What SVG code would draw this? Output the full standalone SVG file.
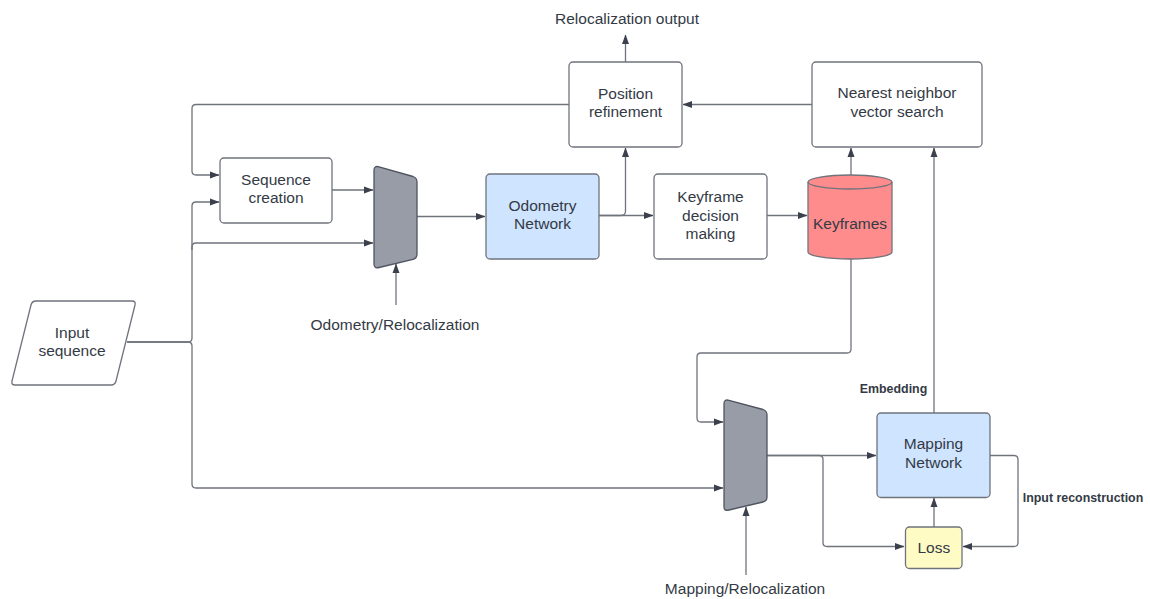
<svg xmlns="http://www.w3.org/2000/svg" width="1150" height="599" viewBox="0 0 1150 599">
<defs>
<marker id="ah" markerWidth="10" markerHeight="8" refX="9" refY="4" orient="auto" markerUnits="userSpaceOnUse">
<path d="M0,0.5 L9.5,4 L0,7.5 Z" fill="#3a404c"/>
</marker>
<style>
.box{fill:#ffffff;stroke:#6f737c;stroke-width:1.3}
.blue{fill:#cfe4ff;stroke:#6f737c;stroke-width:1.3}
.mux{fill:#979ca6;stroke:#4f5461;stroke-width:1.3;stroke-linejoin:round}
.c{fill:none;stroke:#6f737c;stroke-width:1.3}
.a{marker-end:url(#ah)}
.t{font-family:"Liberation Sans",Arial,sans-serif;font-size:15.5px;fill:#333a45;text-anchor:middle}
.b{font-family:"Liberation Sans",Arial,sans-serif;font-size:12.4px;font-weight:bold;fill:#333a45;text-anchor:middle}
</style>
</defs>
<rect width="1150" height="599" fill="#ffffff"/>
<g id="connectors">
<path class="c a" d="M625.5,62 V35"/>
<path class="c a" d="M569,104.5 H196 Q192,104.5 192,108.5 V171 Q192,175 196,175 H219"/>
<path class="c a" d="M812,104.5 H683"/>
<path class="c a" d="M332,190 H373"/>
<path class="c a" d="M127,342 H188 Q192,342 192,338 V206 Q192,202 196,202 H219"/>
<path class="c a" d="M192,250 V247 Q192,243 196,243 H373"/>
<path class="c a" d="M127,342 H188 Q192,342 192,346 V484 Q192,488 196,488 H723"/>
<path class="c a" d="M396,305 V264"/>
<path class="c a" d="M417,216.5 H485"/>
<path class="c a" d="M599,215.5 H653"/>
<path class="c a" d="M599,215.5 H621 Q625.5,215.5 625.5,211 V148"/>
<path class="c a" d="M767,215.5 H807"/>
<path class="c a" d="M851,175 V148"/>
<path class="c a" d="M934,413 V148"/>
<path class="c a" d="M851,259 V349 Q851,353 847,353 H701 Q697,353 697,357 V418 Q697,422 701,422 H723"/>
<path class="c a" d="M767,455.5 H876"/>
<path class="c a" d="M767,455.5 H819 Q823,455.5 823,459.5 V542.5 Q823,546.5 827,546.5 H904"/>
<path class="c a" d="M934,527 V498"/>
<path class="c a" d="M990,455.5 H1014 Q1018,455.5 1018,459.5 V542.5 Q1018,546.5 1014,546.5 H963"/>
<path class="c a" d="M746,575 V507"/>
</g>
<g id="relocalization-output"><text class="t" x="627" y="23.5">Relocalization output</text></g>
<g id="position-refinement">
<rect class="box" x="569" y="62" width="113" height="85" rx="4"/>
<text class="t" x="625.5" y="98.5">Position</text>
<text class="t" x="625.5" y="117">refinement</text>
</g>
<g id="nearest-neighbor">
<rect class="box" x="812" y="62" width="170" height="85" rx="4"/>
<text class="t" x="897" y="98">Nearest neighbor</text>
<text class="t" x="897" y="117">vector search</text>
</g>
<g id="sequence-creation">
<rect class="box" x="220" y="158" width="112" height="65" rx="4"/>
<text class="t" x="276" y="184.5">Sequence</text>
<text class="t" x="276" y="202.5">creation</text>
</g>
<g id="mux1"><path class="mux" d="M374,170 Q374,165.5 379,166.8 L413,176.5 Q417,177.8 417,182 V254 Q417,258.3 413,259.3 L379,267.5 Q374,268.7 374,264 Z"/></g>
<g id="odometry-network">
<rect class="blue" x="486" y="174" width="113" height="85" rx="4"/>
<text class="t" x="542.5" y="210.5">Odometry</text>
<text class="t" x="542.5" y="229">Network</text>
</g>
<g id="keyframe-decision">
<rect class="box" x="654" y="174" width="113" height="85" rx="4"/>
<text class="t" x="710.5" y="202">Keyframe</text>
<text class="t" x="710.5" y="220.5">decision</text>
<text class="t" x="710.5" y="239">making</text>
</g>
<g id="keyframes">
<path d="M808,182 A42,7 0 0 1 892,182 V252 A42,7 0 0 1 808,252 Z" fill="#ff8c8c" stroke="#6f737c" stroke-width="1.3"/>
<path d="M808,182 A42,7 0 0 0 892,182" fill="none" stroke="#6f737c" stroke-width="1.3"/>
<text class="t" x="850" y="228.5">Keyframes</text>
</g>
<g id="input-sequence">
<path class="box" d="M36,301 H132 Q136,301 135,305 L116,381 Q115,385 111,385 H15 Q11,385 12,381 L31,305 Q32,301 36,301 Z"/>
<text class="t" x="72" y="337.5">Input</text>
<text class="t" x="72" y="356">sequence</text>
</g>
<g id="odometry-relocalization"><text class="t" x="395" y="329.5">Odometry/Relocalization</text></g>
<g id="mux2"><path class="mux" d="M724,403.5 Q724,399 729,400.3 L763,409.5 Q767,410.7 767,415 V497 Q767,501 763,502 L729,510 Q724,511.2 724,507 Z"/></g>
<g id="mapping-network">
<rect class="blue" x="877" y="413" width="113" height="84.5" rx="4"/>
<text class="t" x="933.5" y="449">Mapping</text>
<text class="t" x="933.5" y="467.5">Network</text>
</g>
<g id="loss">
<rect x="905.5" y="527" width="56.5" height="41.5" rx="4" fill="#fffbc4" stroke="#6f737c" stroke-width="1.3"/>
<text class="t" x="933.8" y="552.5">Loss</text>
</g>
<g id="embedding-label"><text class="b" x="893.5" y="393">Embedding</text></g>
<g id="input-reconstruction-label"><text class="b" x="1083" y="502">Input reconstruction</text></g>
<g id="mapping-relocalization"><text class="t" x="745" y="593.5">Mapping/Relocalization</text></g>
</svg>
